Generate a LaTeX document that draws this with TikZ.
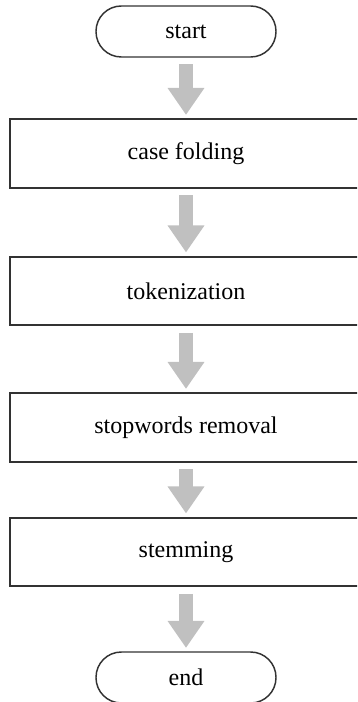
\documentclass[tikz,border=0pt]{standalone}
\usepackage{fontspec}
\setmainfont{Liberation Serif}
\usepackage{tikz}
\usetikzlibrary{calc,arrows.meta}

\definecolor{arrowgray}{RGB}{192,192,192}
\definecolor{framegray}{RGB}{50,50,50}

\tikzset{
  terminal/.style={draw=framegray, line width=1.1pt, rectangle, rounded corners=19pt,
    minimum width=135pt, minimum height=38.25pt, inner sep=0pt,
    font=\fontsize{18}{20}\selectfont},
  stepbox/.style={draw=framegray, line width=1.3pt, rectangle,
    minimum width=264pt, minimum height=51.5pt, inner sep=0pt,
    font=\fontsize{18}{20}\selectfont},
  flow/.style={draw=arrowgray, line width=10.5pt,
    -{Triangle[length=20.25pt, width=26.25pt, fill=arrowgray]},
    shorten <=5pt, shorten >=2.5pt}
}

\begin{document}
\begin{tikzpicture}[x=0.75pt,y=0.75pt,yscale=-1,xscale=1]
\useasboundingbox (0,0) rectangle (357,702);
\clip (0,0) rectangle (357,702);

%Terminal: start
\node [terminal] (start) at (186,31.5) {start};
%Process boxes
\node [stepbox] (casefold) at (186,153.5) {case folding};
\node [stepbox] (token) at (186,291) {tokenization};
\node [stepbox] (stopword) at (186,427.5) {stopwords removal};
\node [stepbox] (stem) at (186,552) {stemming};
%Terminal: end
\node [terminal] (end) at (186,677.5) {end};

%Block arrows
\draw [flow] (start.south) -- (casefold.north);
\draw [flow] (casefold.south) -- (token.north);
\draw [flow] (token.south) -- (stopword.north);
\draw [flow] (stopword.south) -- (stem.north);
\draw [flow] (stem.south) -- (end.north);
\end{tikzpicture}
\end{document}
